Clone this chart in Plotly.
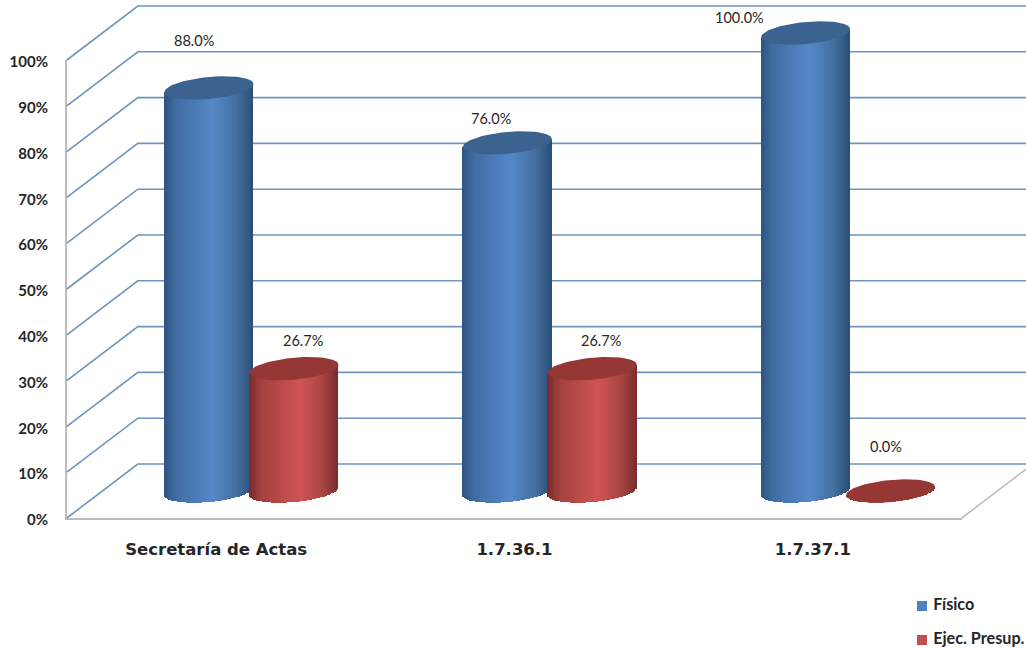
import numpy as np
import plotly.graph_objects as go

categories = ["Secretaría de Actas", "1.7.36.1", "1.7.37.1"]
fisico = [88.0, 76.0, 100.0]
ejec = [26.7, 26.7, 0.0]
series_names = ["Físico", "Ejec. Presup."]
y_ticks = [0, 10, 20, 30, 40, 50, 60, 70, 80, 90, 100]
y_labels = ["0%", "10%", "20%", "30%", "40%", "50%", "60%", "70%", "80%", "90%", "100%"]

W, H = 1026, 649
X0, PX_CAT = 216.0, 298.33      # front-axis position of the first category, px per category
Y0, PX_VAL = 518.0, 4.58        # front-axis zero, px per percent
DX, DY = 71 / PX_CAT, 54 / PX_VAL   # full depth of the box in data units
HALF = 44.5 / PX_CAT            # cylinder radius along x
SEP = 42.5 / PX_CAT             # offset of each series from the group centre
B, SHEAR = 11.0 / PX_VAL, 4.0 / PX_VAL  # cap ellipse half height and tilt
N = 64
GRID = "#7093bf"
AXIS = "#bdbdbd"
TXT = "#262626"
FONT = "Lato"

full_x = [-X0 / PX_CAT, (W - X0) / PX_CAT]
full_y = [(Y0 - H) / PX_VAL, Y0 / PX_VAL]

BLUE = [(0.0, "#2f5482"), (0.14, "#416da3"), (0.55, "#5589ca"), (0.82, "#44709f"), (1.0, "#2b4e78")]
RED = [(0.0, "#762c2b"), (0.14, "#a5413f"), (0.58, "#cf5553"), (0.84, "#a84442"), (1.0, "#772e2d")]


def shade(stops, t):
    ts = [s[0] for s in stops]
    rgb = [[int(s[1][i:i + 2], 16) for i in (1, 3, 5)] for s in stops]
    return "rgb(%d,%d,%d)" % tuple(np.interp(t, ts, [c[k] for c in rgb]) for k in range(3))


fig = go.Figure()

# invisible trace that makes the front axes render
fig.add_trace(go.Scatter(x=categories, y=[0, 0, 0], mode="lines", line=dict(width=0),
                         hoverinfo="skip", showlegend=False, xaxis="x", yaxis="y"))

# back wall + side wall lines
wx, wy = [], []
for v in y_ticks:
    wx += [-0.5, -0.5 + DX, full_x[1], None]
    wy += [v, v + DY, v + DY, None]
fig.add_trace(go.Scatter(x=wx, y=wy, mode="lines", line=dict(color=GRID, width=1.6),
                         hoverinfo="skip", showlegend=False, xaxis="x2", yaxis="y2"))
fig.add_trace(go.Scatter(x=[2.5, 2.5 + DX], y=[0, DY], mode="lines",
                         line=dict(color=AXIS, width=1.6),
                         hoverinfo="skip", showlegend=False, xaxis="x2", yaxis="y2"))


def cylinder(cx, value, stops, cap):
    u = np.linspace(-0.98, 0.98, N)
    xs = cx + u * HALF
    top = value + DY / 2 + SHEAR * u
    bot = DY / 2 + SHEAR * u - B * np.sqrt(np.clip(1 - u ** 2, 0, 1))
    fig.add_trace(go.Bar(x=xs, y=top - bot, base=bot, width=[2.3 * HALF / N] * N,
                         marker=dict(color=[shade(stops, (a + 1) / 2) for a in u], line=dict(width=0)),
                         hoverinfo="skip", showlegend=False, xaxis="x3", yaxis="y3"))
    t = np.linspace(0, 2 * np.pi, 90)
    fig.add_trace(go.Scatter(x=cx + HALF * np.cos(t),
                             y=value + DY / 2 + B * np.sin(t) + SHEAR * np.cos(t),
                             mode="lines", fill="toself", fillcolor=cap, line=dict(width=0, color=cap),
                             hoverinfo="skip", showlegend=False, xaxis="x3", yaxis="y3"))


for i in range(len(categories)):
    c = i + DX / 2
    cylinder(c - SEP, fisico[i], BLUE, "#3c628f")
    cylinder(c + SEP, ejec[i], RED, "#953735")

# legend key, as marker + text in figure pixels
leg_x = [(922 - X0) / PX_CAT] * 2
leg_y = [(Y0 - 606) / PX_VAL, (Y0 - 640) / PX_VAL]
for k, col in enumerate(["#4f81bd", "#c0504d"]):
    fig.add_trace(go.Scatter(x=[leg_x[k]], y=[leg_y[k]], mode="markers+text", name=series_names[k],
                             text=[" " + series_names[k]], textposition="middle right",
                             marker=dict(symbol="square", size=10, color=col),
                             textfont=dict(family=FONT, size=16.2, color=TXT, weight="bold"),
                             hoverinfo="skip", showlegend=False, cliponaxis=False,
                             xaxis="x3", yaxis="y3"))

# data labels: (dx px, dy px) from the cap centre
fis_shift = [(-15, 47), (-16, 24), (-66, 16)]
eje_shift = [(9, 28), (9, 28), (-5, 45)]
ann = []
for i in range(len(categories)):
    c = i + DX / 2
    for off, val, sh in ((-SEP, fisico[i], fis_shift[i]), (SEP, ejec[i], eje_shift[i])):
        ann.append(dict(x=c + off, y=val + DY / 2, xref="x3", yref="y3", text=f"{val:.1f}%",
                        showarrow=False, xshift=sh[0], yshift=sh[1],
                        font=dict(family=FONT, size=14.5, color=TXT)))

hidden = dict(visible=False, showgrid=False, zeroline=False)
fig.update_layout(
    width=W, height=H, autosize=False, barmode="overlay", bargap=0, showlegend=False,
    margin=dict(l=0, r=0, t=0, b=0, pad=0), paper_bgcolor="white", plot_bgcolor="rgba(0,0,0,0)",
    annotations=ann, hovermode=False,
    xaxis=dict(domain=[67 / W, 962 / W], range=[-0.5, 2.5], type="category", showgrid=False,
               zeroline=False, showline=True, linecolor=AXIS, linewidth=2, ticks="",
               tickfont=dict(family="DejaVu Sans", size=16.5, color=TXT, weight="bold"), ticklabelstandoff=15,
               anchor="y", automargin=False),
    yaxis=dict(domain=[(H - Y0) / H, (H - 60) / H], range=[0, 100], tickvals=y_ticks, ticktext=y_labels,
               showgrid=False, zeroline=False, showline=True, linecolor=AXIS, linewidth=2, ticks="",
               tickfont=dict(family=FONT, size=15, color=TXT, weight="bold"), ticklabelstandoff=14,
               ticklabelshift=2, anchor="x", automargin=False),
    xaxis2=dict(domain=[0, 1], range=full_x, anchor="y2", **hidden),
    yaxis2=dict(domain=[0, 1], range=full_y, anchor="x2", **hidden),
    xaxis3=dict(domain=[0, 1], range=full_x, anchor="y3", **hidden),
    yaxis3=dict(domain=[0, 1], range=full_y, anchor="x3", **hidden),
)
fig.write_html("out.html", config={"displayModeBar": False},
               post_script="document.body.style.margin='0';document.documentElement.style.overflow='hidden';")
